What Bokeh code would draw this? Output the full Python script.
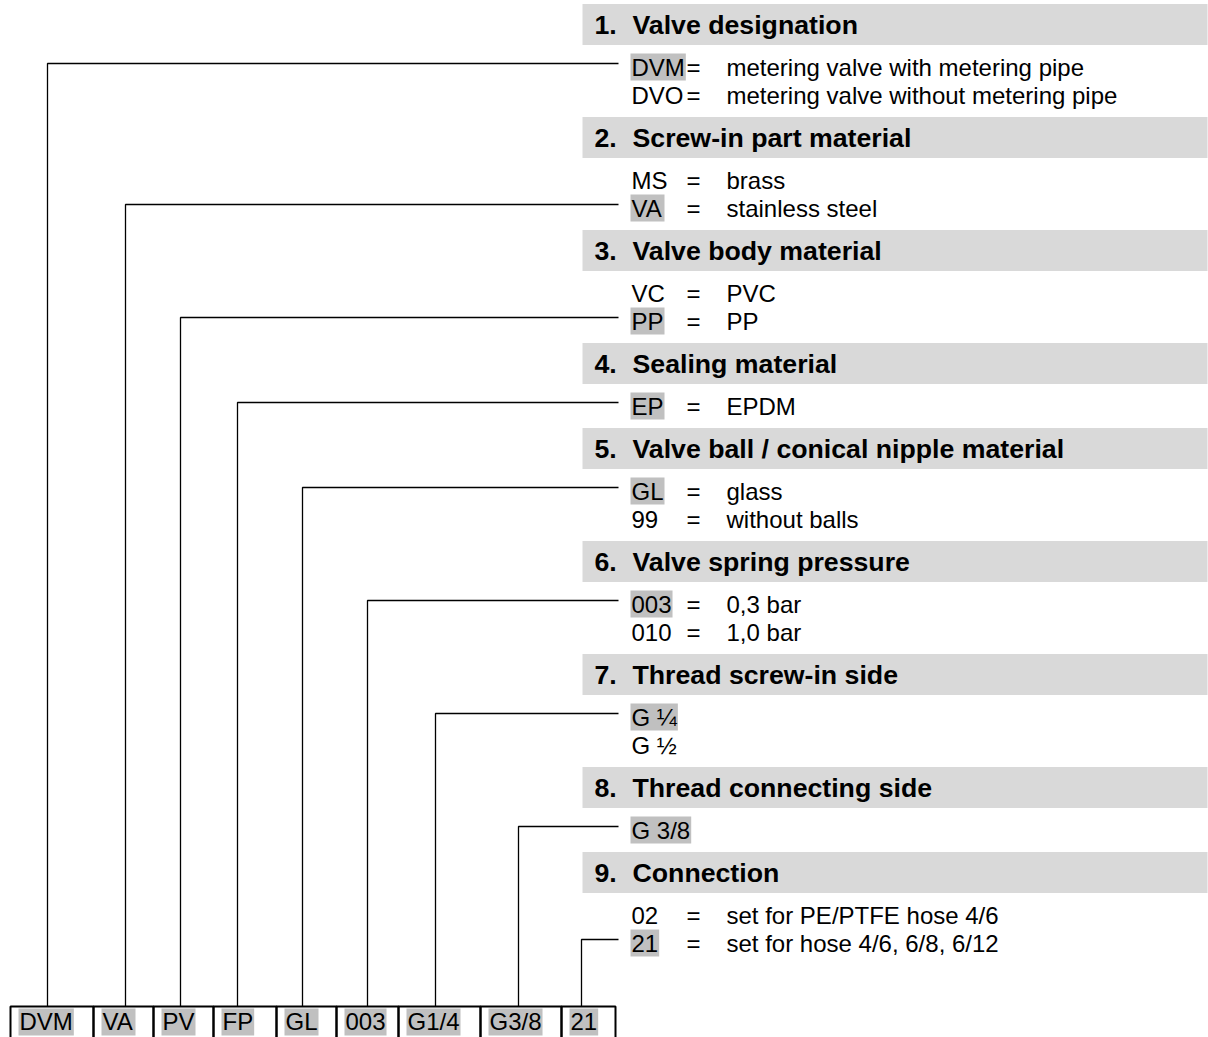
from bokeh.plotting import figure
from bokeh.models import Range1d
from bokeh.core.properties import value
from bokeh.embed import file_html
from bokeh.resources import INLINE

# ---------------- data ----------------
section_numbers = ["1.", "2.", "3.", "4.", "5.", "6.", "7.", "8.", "9."]
section_titles = [
    "Valve designation",
    "Screw-in part material",
    "Valve body material",
    "Sealing material",
    "Valve ball / conical nipple material",
    "Valve spring pressure",
    "Thread screw-in side",
    "Thread connecting side",
    "Connection",
]
option_codes = [
    ["DVM", "DVO"],
    ["MS", "VA"],
    ["VC", "PP"],
    ["EP"],
    ["GL", "99"],
    ["003", "010"],
    ["G \u00bc", "G \u00bd"],
    ["G 3/8"],
    ["02", "21"],
]
option_descs = [
    ["metering valve with metering pipe", "metering valve without metering pipe"],
    ["brass", "stainless steel"],
    ["PVC", "PP"],
    ["EPDM"],
    ["glass", "without balls"],
    ["0,3 bar", "1,0 bar"],
    ["", ""],
    [""],
    ["set for PE/PTFE hose 4/6", "set for hose 4/6, 6/8, 6/12"],
]
selected_option = [0, 1, 1, 0, 0, 0, 0, 0, 1]
type_code = ["DVM", "VA", "PV", "FP", "GL", "003", "G1/4", "G3/8", "21"]

# ---------------- layout / style ----------------
W, H = 1208, 1037
FONT = "Liberation Sans"
HEAD_SIZE = 26.7
ITEM_SIZE = 24
BAR_LEFT = 582
BAR_RIGHT = 1207
BAR_HALF = 20.5
NUM_X = 594
TITLE_X = 632
CODE_X = 631
EQ_X = 686
DESC_X = 726
FIRST_HEADER = 24
HEAD_TO_OPT = 43
OPT_PITCH = 28
OPT_TO_HEAD = 42
LEADER_END = 618
LEADER_DY = -4
CELL_LEFT = 10
CELL_TOP = 1006
CELL_BOTTOM = 1060
CELL_TEXT_Y = 1021
CELL_WIDTHS = [83, 60, 60, 63, 60, 62, 82, 81, 54]
LEADER_SHIFT = [-4.5, 2, -3, -7.5, -4, 0, -4, -2.5, -7]
HEADER_FILL = "#d9d9d9"
HILITE_FILL = "#c0c0c0"

ARIAL = {" ": 278, "/": 278, ",": 278, ".": 278, "=": 584, "\u00bc": 834, "\u00bd": 834,
         "A": 667, "C": 722, "D": 722, "E": 667, "F": 611, "G": 778, "L": 556, "M": 833,
         "O": 778, "P": 667, "S": 667, "V": 667}
for d in "0123456789":
    ARIAL[d] = 556


def text_w(s, size):
    return sum(ARIAL.get(c, 556) for c in s) / 1000.0 * size


# ---------------- compute positions ----------------
header_y = []
opt_rows = []  # (section, idx, y)
hy = FIRST_HEADER
for s in range(len(section_titles)):
    header_y.append(hy)
    n = len(option_codes[s])
    for i in range(n):
        opt_rows.append((s, i, hy + HEAD_TO_OPT + OPT_PITCH * i))
    hy = hy + HEAD_TO_OPT + OPT_PITCH * (n - 1) + OPT_TO_HEAD

cell_left = []
x = CELL_LEFT
for w in CELL_WIDTHS:
    cell_left.append(x)
    x += w
cell_right = [l + w for l, w in zip(cell_left, CELL_WIDTHS)]
cell_center = [(l + r) / 2 for l, r in zip(cell_left, cell_right)]

p = figure(width=W, height=H, output_backend="svg", toolbar_location=None,
           x_range=Range1d(0, W), y_range=Range1d(H, 0),
           min_border=0, outline_line_color=None, background_fill_color="white",
           border_fill_color="white")
p.axis.visible = False
p.grid.visible = False

# header bars
p.quad(left=[BAR_LEFT] * 9, right=[BAR_RIGHT] * 9,
       top=[y - BAR_HALF for y in header_y], bottom=[y + BAR_HALF for y in header_y],
       fill_color=HEADER_FILL, line_color=None)

# highlight of selected options
sel_l, sel_r, sel_t, sel_b = [], [], [], []
sel_y = []
for s, i, y in opt_rows:
    if selected_option[s] == i:
        w = text_w(option_codes[s][i], ITEM_SIZE)
        sel_l.append(CODE_X - 1)
        sel_r.append(CODE_X + w + 1)
        sel_t.append(y - 14)
        sel_b.append(y + 13)
        sel_y.append(y)
p.quad(left=sel_l, right=sel_r, top=sel_t, bottom=sel_b, fill_color=HILITE_FILL, line_color=None)

# cell highlights
cl_l = [l + 8 for l in cell_left]
cl_r = [l + 9 + text_w(t, ITEM_SIZE) + 1 for l, t in zip(cell_left, type_code)]
p.quad(left=cl_l, right=cl_r, top=[CELL_TEXT_Y - 13] * 9, bottom=[CELL_TEXT_Y + 14] * 9,
       fill_color=HILITE_FILL, line_color=None)

# cells
p.quad(left=cell_left, right=cell_right, top=[CELL_TOP] * 9, bottom=[CELL_BOTTOM] * 9,
       fill_color=None, line_color="black", line_width=2)

# leader lines
xs, ys = [], []
for k, y in enumerate(sel_y):
    xv = cell_center[k] + LEADER_SHIFT[k]
    xs.append([xv, xv, LEADER_END])
    ys.append([CELL_TOP, y + LEADER_DY, y + LEADER_DY])
p.multi_line(xs=xs, ys=ys, line_color="black", line_width=1.3)

# header texts
p.text(x=[NUM_X] * 9, y=header_y, text=section_numbers, text_font=value(FONT),
       text_font_size=f"{HEAD_SIZE}px", text_font_style="bold", text_baseline="middle",
       text_align="left", text_color="black")
p.text(x=[TITLE_X] * 9, y=header_y, text=section_titles, text_font=value(FONT),
       text_font_size=f"{HEAD_SIZE}px", text_font_style="bold", text_baseline="middle",
       text_align="left", text_color="black")

# option texts
codes, cys, eqs, eqy, descs, dy = [], [], [], [], [], []
for s, i, y in opt_rows:
    codes.append(option_codes[s][i])
    cys.append(y)
    if option_descs[s][i]:
        eqs.append("=")
        eqy.append(y)
        descs.append(option_descs[s][i])
        dy.append(y)
p.text(x=[CODE_X] * len(codes), y=cys, text=codes, text_font=value(FONT),
       text_font_size=f"{ITEM_SIZE}px", text_baseline="middle", text_align="left", text_color="black")
p.text(x=[EQ_X] * len(eqs), y=eqy, text=eqs, text_font=value(FONT),
       text_font_size=f"{ITEM_SIZE}px", text_baseline="middle", text_align="left", text_color="black")
p.text(x=[DESC_X] * len(descs), y=dy, text=descs, text_font=value(FONT),
       text_font_size=f"{ITEM_SIZE}px", text_baseline="middle", text_align="left", text_color="black")

# cell texts
p.text(x=[l + 9 for l in cell_left], y=[CELL_TEXT_Y] * 9, text=type_code, text_font=value(FONT),
       text_font_size=f"{ITEM_SIZE}px", text_baseline="middle", text_align="left", text_color="black")

open("out.html", "w").write(file_html(p, INLINE))
